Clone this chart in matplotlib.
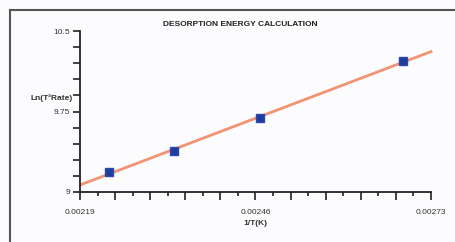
import numpy as np
import matplotlib
matplotlib.use("Agg")
import matplotlib.pyplot as plt
from matplotlib.lines import Line2D

# Data
inv_T = [0.002235, 0.002335, 0.002467, 0.002687]
ln_val = [9.19, 9.38, 9.69, 10.22]
x_ticks = [0.00219, 0.00246, 0.00273]
x_tick_labels = ["0.00219", "0.00246", "0.00273"]
y_tick_labels = {9.0: "9", 9.75: "9.75", 10.5: "10.5"}
title = "DESORPTION ENERGY CALCULATION"
xlabel = "1/T(K)"
ylabel = "Ln(T²Rate)"

plt.rcParams['font.family'] = ['Liberation Sans', 'DejaVu Sans']

fig = plt.figure(figsize=(4.55, 2.42), dpi=100)
fig.patch.set_facecolor('#fcfcfe')
ax = fig.add_axes([80/455, 50/242, 351/455, 161/242])
ax.set_facecolor('none')

xmin, xmax = 0.00219, 0.00273
ymin, ymax = 9.0, 10.5

# fitted line
coef = np.polyfit(inv_T, ln_val, 1)
xl = np.array([xmin, 0.002732])
ax.plot(xl, np.polyval(coef, xl), color='#f29373', lw=2.0, solid_capstyle='butt', zorder=2, clip_on=False)
ax.plot(inv_T, ln_val, linestyle='none', marker='s', markersize=5.5,
        color='#1f3d9c', markeredgecolor='#2a4ab0', zorder=3, clip_on=False)

ax.set_xlim(xmin, xmax)
ax.set_ylim(ymin, ymax)
for s in ['top', 'right']:
    ax.spines[s].set_visible(False)
for s in ['left', 'bottom']:
    ax.spines[s].set_linewidth(1.3)
    ax.spines[s].set_color('#222222')

# x ticks
major_x = [xmin + i * 0.000054 for i in range(11)]
minor_x = [xmin + 0.000027 + i * 0.000054 for i in range(10)]
ax.set_xticks(major_x)
ax.set_xticklabels([x_tick_labels[x_ticks.index(round(v, 5))] if round(v, 5) in x_ticks else ''
                    for v in major_x])
ax.set_xticks(minor_x, minor=True)
ax.tick_params(axis='x', which='major', length=6, width=1.2, color='#222222',
               labelsize=6, labelcolor='#333333', pad=6)
ax.tick_params(axis='x', which='minor', length=3, width=1.2, color='#222222')

# y ticks
yt = [ymin + 0.15 * i for i in range(11)]
ax.set_yticks(yt)
ax.set_yticklabels([y_tick_labels.get(round(v, 2), '') for v in yt])
ax.tick_params(axis='y', which='major', length=5, width=1.2, color='#222222',
               labelsize=6, labelcolor='#333333', pad=2)

ax.text(-0.022, 9.87, ylabel, transform=ax.get_yaxis_transform(), ha='right', va='center',
        fontsize=6, color='#333333', fontweight='bold')
ax.set_xlabel(xlabel, fontsize=6, color='#333333', fontweight='bold', labelpad=3)

fig.text(240/455, 1 - 24/242, title, ha='center', va='center', fontsize=6,
         fontweight='bold', color='#222222')

# outer frame (cropped at right/bottom)
fig.add_artist(Line2D([9.5/455, 9.5/455], [0, 1 - 9.5/242], transform=fig.transFigure,
                      color='#555555', lw=1.5))
fig.add_artist(Line2D([9.5/455, 1], [1 - 9.5/242, 1 - 9.5/242], transform=fig.transFigure,
                      color='#555555', lw=1.5))

fig.savefig('out.png', dpi=100, facecolor=fig.get_facecolor())
